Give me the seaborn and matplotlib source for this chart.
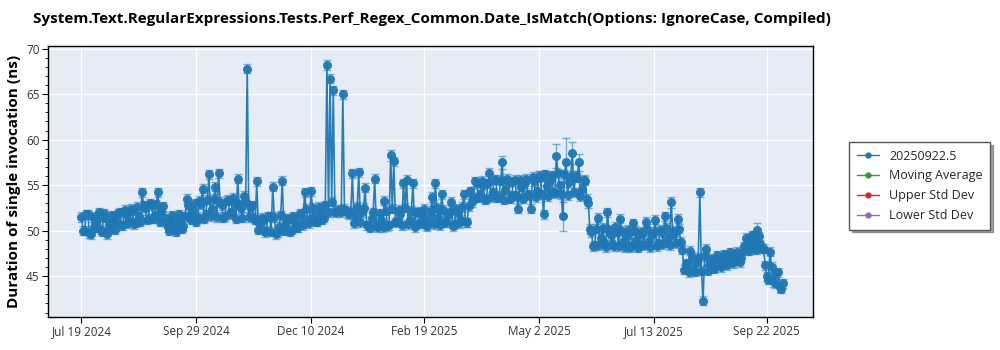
import numpy as np
import pandas as pd
import matplotlib
matplotlib.use("Agg")
import matplotlib.pyplot as plt
import matplotlib.dates as mdates
from matplotlib.ticker import MultipleLocator, FuncFormatter
from matplotlib.lines import Line2D
import seaborn as sns

title = "System.Text.RegularExpressions.Tests.Perf_Regex_Common.Date_IsMatch(Options: IgnoreCase, Compiled)"
ylabel = "Duration of single invocation (ns)"
legend_labels = ["20250922.5", "Moving Average", "Upper Std Dev", "Lower Std Dev"]
legend_colors = ["#1f77b4", "#2ca02c", "#d62728", "#9467bd"]

start_date = "2024-07-19"
# runs on even day offsets (0, 2, 4, ...)
values_even = [
    51.5, 50.0, 51.8, 49.6, 50.4, 51.2, 50.1, 51.9, 49.6, 50.8,
    51.5, 51.0, 52.0, 50.6, 51.8, 51.2, 52.2, 50.9, 51.6, 54.2,
    52.5, 51.3, 52.8, 51.7, 54.2, 52.3, 51.5, 50.4, 51.2, 50.2,
    50.8, 51.4, 50.5, 53.5, 51.6, 52.3, 51.0, 53.3, 54.6, 51.8,
    56.2, 52.4, 54.8, 56.3, 52.8, 51.6, 53.4, 52.0, 53.0, 55.7,
    52.5, 53.8, 67.8, 52.6, 51.4, 55.4, 50.5, 51.2, 50.0, 51.6,
    54.8, 49.6, 50.4, 55.5, 50.6, 51.3, 50.1, 51.0, 50.4, 51.6,
    54.2, 51.2, 54.3, 51.6, 51.0, 52.1, 51.4, 68.2, 66.7, 65.4,
    52.0, 52.3, 65.0, 52.2, 51.8, 56.3, 51.5, 56.4, 52.0, 54.7,
    50.6, 51.4, 55.7, 50.4, 51.2, 53.3, 50.5, 58.3, 57.6, 51.0,
    51.8, 55.2, 55.6, 51.2, 55.2, 52.0, 50.8, 51.6, 50.6, 51.3,
    53.7, 55.2, 51.5, 54.0, 50.9, 51.7, 53.2, 50.7, 51.9, 51.2,
    54.0, 50.9, 54.3, 53.6, 55.2, 54.0, 55.0, 53.5, 56.3, 54.2,
    55.6, 53.8, 57.5, 54.5, 55.3, 53.9, 55.6, 52.4, 54.8, 55.2,
    54.0, 52.4, 55.4, 54.3, 55.8, 51.8, 54.9, 55.6, 54.2, 58.2,
    55.0, 51.6, 57.5, 55.3, 58.5, 56.0, 57.5, 54.6, 55.5, 53.0,
    49.8, 48.4, 51.4, 49.2, 48.6, 52.0, 49.5, 48.3, 49.9, 51.3,
    48.7, 49.4, 48.2, 50.8, 49.0, 48.5, 49.6, 51.0, 48.9, 49.5,
    51.2, 48.6, 49.8, 51.6, 49.2, 53.1, 49.6, 51.3, 48.8, 45.7,
    46.4, 47.8, 45.8, 46.6, 54.2, 42.3, 48.0, 46.2, 45.9, 46.8,
    46.3, 47.0, 46.5, 46.9, 47.2, 46.7, 47.4, 47.0, 48.3, 49.0,
    48.2, 48.8, 50.1, 48.5, 48.0, 45.0, 47.7, 44.5, 45.3, 43.8,
    44.2,
]
# runs on odd day offsets (1, 3, 5, ...)
values_odd = [
    50.0, 51.8, 49.7, 51.5, 50.3, 52.0, 49.9, 51.4, 50.2, 51.7,
    50.1, 51.9, 50.6, 52.3, 50.8, 52.4, 50.7, 52.6, 51.0, 52.8,
    51.2, 53.0, 51.3, 52.9, 51.0, 52.7, 50.9, 50.0, 51.7, 49.9,
    51.8, 50.2, 51.6, 52.8, 51.2, 53.0, 51.5, 52.9, 51.3, 53.4,
    51.6, 53.5, 51.5, 53.2, 51.4, 53.3, 51.8, 53.6, 51.3, 52.9,
    51.4, 53.2, 51.5, 52.8, 51.2, 50.1, 51.4, 49.8, 51.6, 49.9,
    51.5, 49.8, 51.7, 50.0, 51.3, 49.9, 51.6, 50.3, 51.9, 50.6,
    52.4, 50.8, 52.5, 51.0, 52.6, 51.2, 52.8, 52.0, 53.2, 52.1,
    52.3, 52.0, 52.4, 51.9, 52.1, 50.8, 52.6, 50.9, 52.5, 50.6,
    50.3, 52.0, 50.5, 51.9, 50.4, 52.2, 50.6, 52.4, 50.9, 52.3,
    50.6, 52.5, 50.7, 52.2, 50.4, 52.1, 50.8, 52.4, 50.5, 52.2,
    50.7, 52.5, 50.6, 52.3, 50.9, 52.0, 50.5, 52.4, 50.8, 52.6,
    50.9, 52.7, 53.1, 55.4, 53.6, 55.5, 53.4, 55.2, 53.7, 55.6,
    53.6, 55.5, 53.4, 55.7, 53.5, 55.4, 53.8, 55.6, 53.5, 55.7,
    53.9, 55.9, 53.7, 56.0, 54.0, 56.2, 53.8, 56.1, 54.1, 56.3,
    54.0, 56.2, 53.9, 56.0, 54.2, 55.8, 53.8, 55.6, 53.5, 50.2,
    48.3, 50.2, 48.4, 50.3, 48.2, 50.1, 48.5, 50.4, 48.3, 50.0,
    48.2, 50.1, 48.3, 50.0, 48.1, 49.9, 48.4, 50.2, 48.2, 49.9,
    48.3, 50.1, 48.5, 50.3, 48.4, 50.0, 48.6, 50.2, 47.9, 46.3,
    45.4, 47.1, 45.5, 47.0, 45.6, 47.2, 45.6, 46.9, 45.8, 47.3,
    46.0, 47.4, 46.2, 47.6, 46.4, 47.7, 46.5, 47.8, 49.2, 47.8,
    49.5, 47.9, 49.4, 48.0, 46.2, 44.6, 46.0, 44.2, 45.4, 43.6,
]
err_default = 0.5
err_overrides_even = {97: 0.6, 128: 0.6, 132: 0.7, 144: 0.8, 149: 1.3, 151: 1.6,
                      152: 2.7, 154: 1.2, 156: 0.9, 185: 0.6, 212: 0.7, 217: 0.7}
xtick_dates = ["2024-07-19", "2024-09-29", "2024-12-10", "2025-02-19",
               "2025-05-02", "2025-07-13", "2025-09-22"]
x_limits = ["2024-06-28", "2025-10-21"]
y_limits = [40.5, 70.3]

t0 = pd.Timestamp(start_date)
even = pd.DataFrame({
    "date": [t0 + pd.Timedelta(days=2 * i) for i in range(len(values_even))],
    "value": values_even,
    "err": [err_overrides_even.get(i, err_default) for i in range(len(values_even))],
})
odd = pd.DataFrame({
    "date": [t0 + pd.Timedelta(days=2 * j + 1) for j in range(len(values_odd))],
    "value": values_odd,
    "err": [err_default] * len(values_odd),
})
df = pd.concat([even, odd]).sort_values("date").reset_index(drop=True)

sns.set_theme(style="darkgrid", rc={"axes.facecolor": "#E5ECF6", "grid.color": "white",
                                    "grid.linewidth": 1.0})
plt.rcParams["font.family"] = ["Open Sans", "DejaVu Sans"]

fig = plt.figure(figsize=(10, 3.5), dpi=100)
ax = fig.add_axes([0.048, 0.094, 0.765, 0.775])
c = legend_colors[0]

ax.errorbar(df["date"], df["value"], yerr=df["err"], fmt="none", ecolor=c,
            elinewidth=1.0, capsize=3, capthick=1.0, alpha=0.55, zorder=2)
sns.lineplot(data=df, x="date", y="value", ax=ax, color=c, marker="o",
             markersize=6.5, markeredgewidth=0, linewidth=1.2, alpha=0.95,
             legend=False, zorder=3)

ax.set_xlim(pd.Timestamp(x_limits[0]), pd.Timestamp(x_limits[1]))
ax.set_ylim(*y_limits)
ax.set_xticks([pd.Timestamp(d) for d in xtick_dates])
ax.xaxis.set_major_formatter(FuncFormatter(
    lambda v, p: (lambda d: f"{d.strftime('%b')} {d.day} {d.year}")(mdates.num2date(v))))
ax.yaxis.set_major_locator(MultipleLocator(5))
ax.yaxis.set_minor_locator(MultipleLocator(1))
ax.grid(True, which="major", color="white", linewidth=1.0)
ax.grid(False, which="minor")
for s in ax.spines.values():
    s.set_visible(True)
    s.set_color("black")
    s.set_linewidth(1.0)
ax.tick_params(axis="both", which="major", bottom=True, left=True, length=4,
               width=0.8, color="black", labelsize=8.5, labelcolor="#333333", pad=2)
ax.tick_params(axis="y", which="minor", left=True, length=2, width=0.6, color="black")
ax.set_xlabel("")
ax.set_ylabel(ylabel, fontsize=11, fontweight="bold", color="black", labelpad=4)
fig.text(0.033, 0.945, title, fontsize=11, fontweight="bold", color="black",
         ha="left", va="center")

handles = [Line2D([0], [0], color=col, marker="o", markersize=3.5, linewidth=1.0)
           for col in legend_colors]
leg = fig.legend(handles, legend_labels, loc="upper left",
                 bbox_to_anchor=(0.843, 0.612), frameon=True, shadow=True,
                 fancybox=False, fontsize=9, handlelength=1.8, borderpad=0.6,
                 labelspacing=0.55, facecolor="white", edgecolor="#555555")
leg.get_frame().set_linewidth(1.0)

fig.savefig("out.png", dpi=100)
